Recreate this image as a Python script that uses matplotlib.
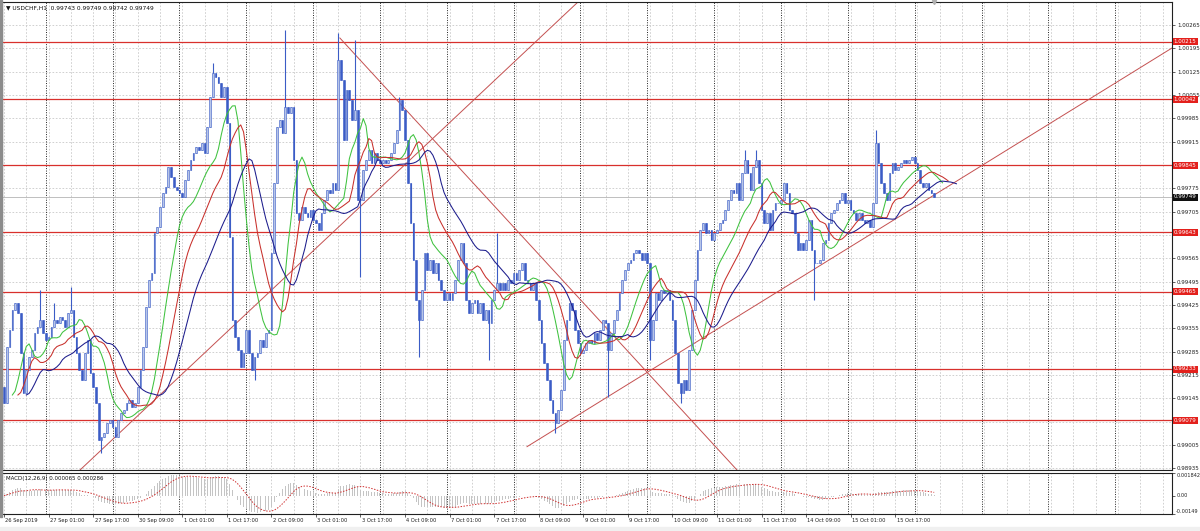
import numpy as np
import pandas as pd
import matplotlib
matplotlib.use("Agg")
import matplotlib.pyplot as plt
import matplotlib.transforms as mtransforms
from matplotlib.patches import Rectangle

plt.rcParams['font.family'] = ['DejaVu Sans']

# --- data (USDCHF H1, 26 Sep 2019 09:00 .. 16 Oct 2019 07:00) ---
first_open = 0.9918
closes = [
    0.9913, 0.9930, 0.9935, 0.9941, 0.9943, 0.9940, 0.9928, 0.9916, 0.9923, 0.9927, 0.9929, 0.9934, 0.9936, 0.9938, 0.9934, 0.9932,
    0.9933, 0.9936, 0.9938, 0.9937, 0.9939, 0.9938, 0.9936, 0.9940, 0.9941, 0.9933, 0.9928, 0.9923, 0.9920, 0.9928, 0.9932, 0.9922,
    0.9918, 0.9913, 0.9902, 0.9903, 0.9904, 0.9907, 0.9908, 0.9906, 0.9903, 0.9908, 0.9910, 0.9911, 0.9913, 0.9914, 0.9912, 0.9913,
    0.9918, 0.9923, 0.9930, 0.9942, 0.9950, 0.9952, 0.9964, 0.9966, 0.9972, 0.9976, 0.9978, 0.9984, 0.9981, 0.9978, 0.9977, 0.9976,
    0.9975, 0.9980, 0.9983, 0.9986, 0.9988, 0.9990, 0.9989, 0.9991, 0.9988, 0.9996, 1.0005, 1.0012, 1.0011, 1.0009, 1.0005, 1.0008,
    0.9997, 0.9963, 0.9938, 0.9933, 0.9929, 0.9924, 0.9928, 0.9935, 0.9928, 0.9923, 0.9927, 0.9928, 0.9932, 0.9930, 0.9934, 0.9935,
    0.9958, 0.9979, 0.9996, 0.9998, 0.9994, 1.0002, 1.0000, 1.0002, 0.9986, 0.9970, 0.9968, 0.9972, 0.9970, 0.9969, 0.9971, 0.9968,
    0.9967, 0.9965, 0.9970, 0.9974, 0.9977, 0.9976, 0.9979, 0.9977, 1.0016, 1.0010, 0.9992, 1.0007, 1.0004, 0.9998, 1.0001, 0.9974,
    0.9974, 0.9983, 0.9986, 0.9989, 0.9985, 0.9988, 0.9986, 0.9985, 0.9986, 0.9985, 0.9986, 0.9988, 0.9991, 0.9995, 1.0004, 1.0001,
    0.9992, 0.9979, 0.9967, 0.9956, 0.9944, 0.9938, 0.9947, 0.9958, 0.9953, 0.9956, 0.9952, 0.9955, 0.9950, 0.9947, 0.9944, 0.9946,
    0.9944, 0.9946, 0.9950, 0.9956, 0.9961, 0.9955, 0.9944, 0.9940, 0.9943, 0.9944, 0.9940, 0.9943, 0.9938, 0.9941, 0.9937, 0.9944,
    0.9947, 0.9949, 0.9947, 0.9949, 0.9947, 0.9950, 0.9949, 0.9952, 0.9950, 0.9953, 0.9955, 0.9950, 0.9949, 0.9947, 0.9949, 0.9944,
    0.9938, 0.9931, 0.9925, 0.9920, 0.9914, 0.9910, 0.9907, 0.9911, 0.9917, 0.9932, 0.9938, 0.9943, 0.9941, 0.9935, 0.9931, 0.9928,
    0.9929, 0.9931, 0.9932, 0.9931, 0.9934, 0.9932, 0.9935, 0.9938, 0.9937, 0.9929, 0.9934, 0.9938, 0.9941, 0.9946, 0.9950, 0.9953,
    0.9955, 0.9956, 0.9958, 0.9959, 0.9958, 0.9956, 0.9958, 0.9955, 0.9932, 0.9938, 0.9946, 0.9944, 0.9947, 0.9946, 0.9947, 0.9944,
    0.9938, 0.9928, 0.9919, 0.9916, 0.9920, 0.9917, 0.9929, 0.9941, 0.9950, 0.9959, 0.9965, 0.9967, 0.9964, 0.9965, 0.9962, 0.9964,
    0.9965, 0.9967, 0.9968, 0.9971, 0.9974, 0.9977, 0.9976, 0.9979, 0.9974, 0.9982, 0.9986, 0.9982, 0.9977, 0.9984, 0.9986, 0.9979,
    0.9971, 0.9967, 0.9970, 0.9965, 0.9971, 0.9973, 0.9973, 0.9974, 0.9979, 0.9976, 0.9971, 0.9970, 0.9964, 0.9959, 0.9961, 0.9959,
    0.9962, 0.9968, 0.9959, 0.9955, 0.9955, 0.9956, 0.9961, 0.9962, 0.9967, 0.9970, 0.9971, 0.9973, 0.9974, 0.9976, 0.9973, 0.9974,
    0.9971, 0.9970, 0.9968, 0.9970, 0.9968, 0.9967, 0.9968, 0.9966, 0.9973, 0.9991, 0.9985, 0.9979, 0.9976, 0.9974, 0.9982, 0.9985,
    0.9983, 0.9984, 0.9985, 0.9986, 0.9985, 0.9986, 0.9987, 0.9985, 0.9983, 0.9979, 0.9978, 0.9979, 0.9977, 0.9976, 0.99749,
]

# bars with visible wicks: index -> (high, low); None keeps the body edge
wicks = {
    13: (0.9947, None), 18: (0.9943, None), 24: (0.9948, None), 35: (None, 0.9898),
    75: (1.0015, None), 90: (None, 0.9920), 101: (1.0025, None), 120: (1.0024, None),
    126: (1.0022, None), 128: (None, 0.9951), 142: (1.0005, None), 149: (None, 0.9927),
    174: (None, 0.9926), 177: (0.9964, None), 198: (None, 0.9904), 217: (None, 0.9915),
    232: (None, 0.9926), 243: (None, 0.9913), 266: (0.9989, None), 270: (0.9989, None),
    291: (None, 0.9944), 313: (0.9995, None),
}

levels = [1.00215, 1.00042, 0.99845, 0.99643, 0.99465, 0.99233, 0.99079]
level_labels = ["1.00215", "1.00042", "0.99845", "0.99643", "0.99465", "0.99233", "0.99079"]

# trend lines: ((bar, price), (bar, price))
trend_lines = [
    ((27.3, 0.98930), (206.1, 1.00334)),
    ((120.6, 1.00226), (263.2, 0.98930)),
    ((187.8, 0.99000), (419.4, 1.00196)),
]

price_ticks = [1.00265, 1.00195, 1.00125, 1.00055, 0.99985, 0.99915, 0.99845, 0.99775, 0.99705, 0.99635,
               0.99565, 0.99495, 0.99425, 0.99355, 0.99285, 0.99215, 0.99145, 0.99075, 0.99005, 0.98935]
macd_ticks = [0.001842, 0.0, -0.00149]
macd_tick_labels = ["0.001842", "0.00", "-0.00149"]
title_text = "\u25bc USDCHF,H1  0.99743 0.99749 0.99742 0.99749"
macd_text = "MACD(12,26,9) 0.000065 0.000286"

# --- derived series ---
close = np.array(closes)
n = len(close)
open_ = np.concatenate([[first_open], close[:-1]])
high = np.maximum(open_, close)
low = np.minimum(open_, close)
for k, (h, l) in wicks.items():
    if h is not None:
        high[k] = h
    if l is not None:
        low[k] = l

# hourly bars, weekends removed
times = pd.date_range("2019-09-26 09:00", "2019-10-16 07:00", freq="h")
times = times[times.dayofweek < 5]

median = pd.Series((high + low) / 2)
def smma(s, p):
    return s.ewm(alpha=1.0 / p, adjust=False).mean().values

jaw, jaw_shift = smma(median, 13), 8
teeth, teeth_shift = smma(median, 8), 5
lips, lips_shift = smma(median, 5), 3

cs = pd.Series(close)
macd_main = (cs.ewm(span=12, adjust=False).mean() - cs.ewm(span=26, adjust=False).mean()).values
macd_signal = pd.Series(macd_main).rolling(9, min_periods=1).mean().values

# --- figure ---
W, H = 1200, 531
fig = plt.figure(figsize=(W / 100, H / 100), dpi=100)

def px_box(x0, y0, x1, y1):
    return [x0 / W, 1 - y1 / H, (x1 - x0) / W, (y1 - y0) / H]

ax = fig.add_axes(px_box(2, 2, 1172, 470))
axm = fig.add_axes(px_box(2, 473, 1172, 514), sharex=ax)
fig.patches.append(Rectangle((0, 1 - 517 / H), 2 / W, 517 / H, transform=fig.transFigure,
                             color="#8c8c8c", zorder=0))
fig.patches.append(Rectangle((0, 0), 1, 4 / H, transform=fig.transFigure, color="#f0f0f0", zorder=0))

xmin, xmax = -0.72, 419.4
idx = np.arange(n)
grid_c = "#c9c9c9"

for a in (ax, axm):
    a.set_xlim(xmin, xmax)
    for g in range(0, 420, 8):
        a.axvline(g, color=grid_c, lw=0.6, ls=(0, (2, 2)), zorder=0)
    for d in range(15, 420, 24):
        a.axvline(d, color="#222222", lw=0.7, ls=(0, (1, 1.5)), zorder=1)
    for sp in a.spines.values():
        sp.set_color("#202020")
        sp.set_linewidth(0.8)
    a.spines["left"].set_color("#8c8c8c")
    a.yaxis.tick_right()
    a.tick_params(axis="y", length=2, width=0.5, pad=1.5, labelsize=4, colors="#202020")

# main panel
ax.set_ylim(0.98930, 1.00334)
for p in price_ticks:
    ax.axhline(p, color=grid_c, lw=0.6, ls=(0, (2, 2)), zorder=0)
ax.set_yticks(price_ticks)
# labels hidden behind the level boxes stay blank
ax.set_yticklabels(["" if min(abs(p - lv) for lv in levels) < 0.0001 else f"{p:.5f}"
                    for p in price_ticks])
ax.tick_params(axis="x", bottom=False, labelbottom=False)

for lv in levels:
    ax.axhline(lv, color="#d8302c", lw=0.9, zorder=2)
ax.axhline(close[-1], color="#b4b4b4", lw=0.6, zorder=2)

for (x0, y0), (x1, y1) in trend_lines:
    ax.plot([x0, x1], [y0, y1], color="#c45050", lw=0.7, zorder=2)

bull = close >= open_
body_c = np.where(bull, "#b7c5e8", "#3b5cc6")
ax.vlines(idx, low, high, color="#3b5cc6", lw=0.8, zorder=3)
body_h = np.maximum(np.abs(close - open_), 0.00002)
ax.bar(idx, body_h, bottom=np.minimum(open_, close), width=0.6, color=body_c,
       edgecolor="#3b5cc6", linewidth=0.4, zorder=4)

ax.plot(idx + lips_shift, lips, color="#3fc23f", lw=0.75, zorder=5)
ax.plot(idx + teeth_shift, teeth, color="#c8302c", lw=0.75, zorder=5)
ax.plot(idx + jaw_shift, jaw, color="#1c1c8c", lw=0.75, zorder=5)

ax.text(0.0035, 0.992, title_text, transform=ax.transAxes, fontsize=4.2, va="top", ha="left",
        color="#101010")
ax.plot([n - 1], [1.00334], marker="v", color="#b0b0b0", ms=3, clip_on=False, zorder=6)

lab_tr = mtransforms.blended_transform_factory(ax.transAxes, ax.transData)
for lv, txt in zip(levels, level_labels):
    ax.text(1.0015, lv, txt, transform=lab_tr, fontsize=4, color="white", va="center", ha="left",
            bbox=dict(boxstyle="square,pad=0.18", fc="#e3201c", ec="none"), zorder=10, clip_on=False)
ax.text(1.0015, close[-1], f"{close[-1]:.5f}", transform=lab_tr, fontsize=4, color="white",
        va="center", ha="left", bbox=dict(boxstyle="square,pad=0.18", fc="#101010", ec="none"),
        zorder=10, clip_on=False)

# MACD panel
axm.set_ylim(-0.00149, 0.001842)
axm.bar(idx, macd_main, width=0.35, color="#c4c4c4", zorder=3)
axm.plot(idx, macd_signal, color="#d03030", lw=0.7, ls=(0, (1.5, 1.5)), zorder=4)
axm.set_yticks(macd_ticks)
axm.set_yticklabels(macd_tick_labels)
axm.tick_params(axis="y", labelsize=3.6, pad=1)
for lbl in axm.get_yticklabels():
    lbl.set_va("top" if lbl.get_text() == "0.001842" else ("bottom" if lbl.get_text() == "-0.00149" else "center"))
axm.text(0.0035, 0.92, macd_text, transform=axm.transAxes, fontsize=4, va="top", ha="left",
         color="#101010")

tick_pos = list(range(0, n, 16))
axm.set_xticks(tick_pos)
axm.set_xticklabels([])
axm.tick_params(axis="x", length=2.5, width=0.5, direction="out", colors="#202020")
bt = mtransforms.blended_transform_factory(axm.transData, axm.transAxes)
for k, pos in enumerate(tick_pos):
    t = times[pos]
    txt = t.strftime("%-d %b %Y") if k == 0 else t.strftime("%-d %b %H:%M")
    axm.text(pos + 0.5, -0.1, txt, transform=bt, fontsize=3.7, va="top", ha="left", color="#202020",
             clip_on=False)

fig.savefig("out.png", dpi=100)
